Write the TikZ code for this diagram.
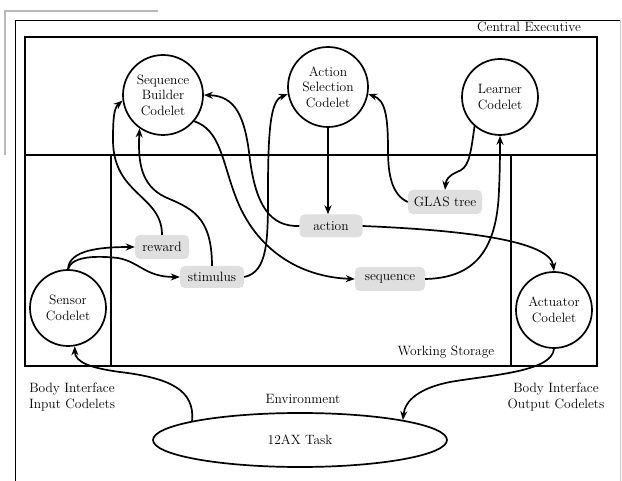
\documentclass[tikz,border=0pt]{standalone}
\usetikzlibrary{arrows.meta,shapes.geometric}
\begin{document}
\begin{tikzpicture}[x=1pt,y=-1pt,
  every node/.style={font=\fontsize{13.5}{15.5}\selectfont},
  codelet/.style={circle,draw,line width=1.7pt,align=center,inner sep=0pt},
  store/.style={rounded corners=5pt,fill=gray!25,inner sep=0pt},
  frameline/.style={line width=1.7pt},
  conn/.style={line width=1.7pt,-{Stealth[length=9pt,width=7pt]}},
  label/.style={align=center,inner sep=0pt}]
\useasboundingbox (0,0) rectangle (622,481);
% outer frames
\draw[gray!55,line width=2.5pt] (158,11) -- (5,11) -- (5,155);
\draw[line width=0.9pt] (15,481) -- (15,20) -- (620,20);
\draw[gray!40,line width=0.8pt] (620,20) -- (620,481);
% central executive / working storage
\draw[frameline] (25,37) rectangle (597,366);
\draw[frameline] (25,155) -- (597,155);
\draw[frameline] (111,155) -- (111,366);
\draw[frameline] (511,155) -- (511,366);
% codelets
\node[codelet,minimum size=80pt] (SB) at (163,95) {Sequence\\Builder\\Codelet};
\node[codelet,minimum size=80pt] (AS) at (328,87) {Action\\Selection\\Codelet};
\node[codelet,minimum size=76pt] (LC) at (500,97) {Learner\\Codelet};
\node[codelet,minimum size=76pt] (SC) at (68,308) {Sensor\\Codelet};
\node[codelet,minimum size=76pt] (AC) at (554,310) {Actuator\\Codelet};
% stores
\node[store,minimum width=54pt,minimum height=24pt] (reward) at (162,247) {reward};
\node[store,minimum width=64pt,minimum height=22pt] (stimulus) at (212,277) {stimulus};
\node[store,minimum width=63pt,minimum height=23pt] (action) at (331,226) {action};
\node[store,minimum width=74pt,minimum height=24pt] (glas) at (445,202) {GLAS tree};
\node[store,minimum width=70pt,minimum height=24pt] (sequence) at (390,279) {sequence};
% task
\node[ellipse,draw,line width=1.7pt,minimum width=294pt,minimum height=54pt] (task) at (300,440) {12AX Task};
% labels
\node[label] (ce) at (529,27) {Central Executive};
\node[label] (ws) at (446,352) {Working Storage};
\node[label] (env) at (303,399) {Environment};
\node[label] (bin) at (72,397) {Body Interface\\Input Codelets};
\node[label] (bout) at (556,397) {Body Interface\\Output Codelets};
% connectors
\draw[conn] (SC.north) .. controls (69,250) and (100,247) .. (reward.west);
\draw[conn] (SC.north) .. controls (72,255) and (100,256) .. (118,258) .. controls (140,262) and (145,277) .. (stimulus.west);
\draw[conn] (reward.north) .. controls (162,195) and (113,195) .. (113,140) .. controls (113,118) and (114,108) .. (SB.188);
\draw[conn] (stimulus.north) .. controls (212,215) and (190,208) .. (165,197) .. controls (140,185) and (138,160) .. (SB.235);
\draw[conn] (stimulus.east) .. controls (268,272) and (268,240) .. (268,190) .. controls (268,120) and (272,100) .. (AS.190);
\draw[conn] (SB.320) .. controls (220,130) and (222,160) .. (235,195) .. controls (255,250) and (300,277) .. (sequence.west);
\draw[conn] (action.west) .. controls (270,227) and (256,205) .. (250,160) .. controls (245,115) and (235,96) .. (SB.east);
\draw[conn] (AS.south) -- (AS.south |- action.north);
\draw[conn] (action.east) .. controls (460,230) and (550,240) .. (AC.north);
\draw[conn] (glas.west) .. controls (392,195) and (388,175) .. (388,150) .. controls (388,115) and (385,100) .. (AS.350);
\draw[conn] (LC.229) .. controls (470,160) and (468,168) .. (457,172) .. controls (448,176) and (446,180) .. (glas.north);
\draw[conn] (sequence.east) .. controls (475,278) and (497,250) .. (499,190) .. controls (500,170) and (500,150) .. (LC.south);
\draw[conn] (AC.south) .. controls (552,372) and (490,375) .. (450,382) .. controls (420,388) and (405,400) .. (task.11);
\draw[conn] (task.170) .. controls (195,390) and (170,378) .. (120,372) .. controls (90,368) and (75,362) .. (SC.280);
\end{tikzpicture}
\end{document}
